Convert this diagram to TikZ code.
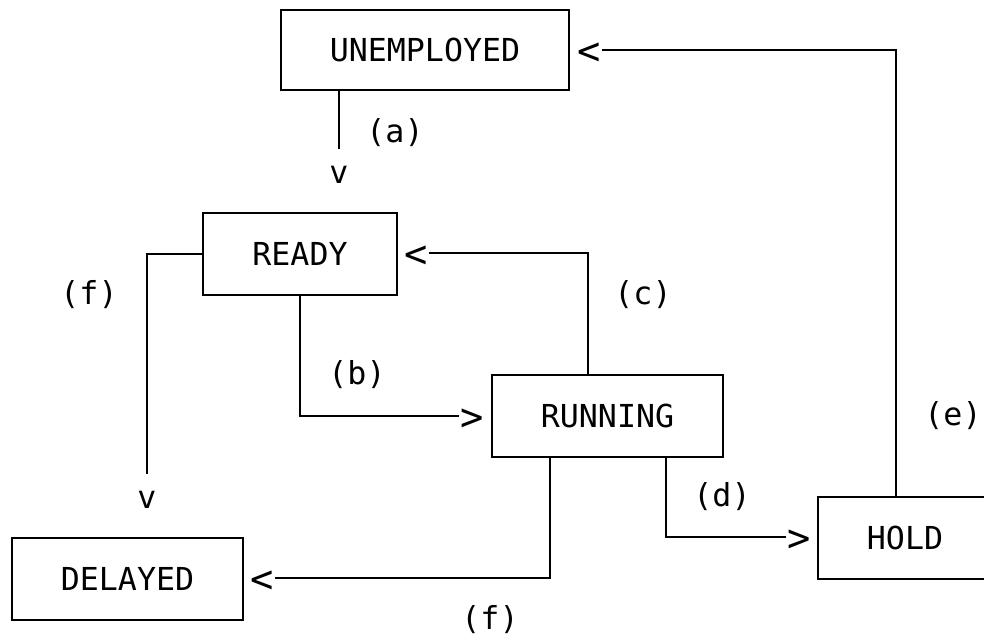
\documentclass[tikz,border=0pt]{standalone}
\usepackage{fontspec}
\setmonofont{DejaVu Sans Mono}
\usepackage{tikz}
\usetikzlibrary{positioning}
\tikzset{every picture/.style={line width=1.25pt,x=0.02cm,y=-0.02cm},every node/.style={font=\ttfamily\fontsize{18}{21}\selectfont}}
\tikzset{state/.style={draw,minimum height=1.64cm,inner sep=0pt},tip/.style={inner sep=0pt},bigtip/.style={inner sep=0pt,font=\ttfamily\fontsize{22}{24}\selectfont}}

\begin{document}
\begin{tikzpicture}
    \useasboundingbox (0,0) rectangle (984,635);

    \node (unemployed) [state, minimum width=5.76cm, minimum height=1.6cm] at (425,50) {UNEMPLOYED};
    \node (ready) [state, minimum width=3.88cm] at (300,254) {READY};
    \node (running) [state, minimum width=4.62cm] at (607.5,416) {RUNNING};
    \node (hold) [state, minimum width=3.48cm] at (905,538) {HOLD};
    \node (delayed) [state, minimum width=4.62cm] at (127.5,579) {DELAYED};

    % arrow heads, as in the text drawing
    \node (va) [tip] at (339,175) {v};
    \node (vf) [tip] at (147,500) {v};
    \node (lu) [bigtip] at (589,54) {<};
    \node (lr) [bigtip] at (416,257) {<};
    \node (rr) [bigtip] at (472,420) {>};
    \node (rh) [bigtip] at (799,541) {>};
    \node (ld) [bigtip] at (262,582) {<};

    \node (a) at (395,133) {(a)};
    \node (b) at (357,375) {(b)};
    \node (c) at (643,295) {(c)};
    \node (d) at (722,497) {(d)};
    \node (e) at (953,416) {(e)};
    \node (f1) at (89,295) {(f)};
    \node (f2) at (490,620) {(f)};

    \draw (unemployed.south -| va) -- ([yshift=0.32cm]va.north);
    \draw (ready.south) |- ([yshift=0.08cm]rr.west);
    \draw ([xshift=-0.39cm]running.north) |- ([yshift=0.08cm]lr.east);
    \draw ([xshift=1.17cm]running.south) |- ([yshift=0.08cm]rh.west);
    \draw ([xshift=-0.18cm]hold.north) |- ([yshift=0.08cm]lu.east);
    \draw (ready.west) -| ([yshift=0.32cm]vf.north);
    \draw ([xshift=-1.15cm]running.south) |- ([yshift=0.08cm]ld.east);
    %\draw (hold) -- (unemployed);
\end{tikzpicture}
\end{document}
